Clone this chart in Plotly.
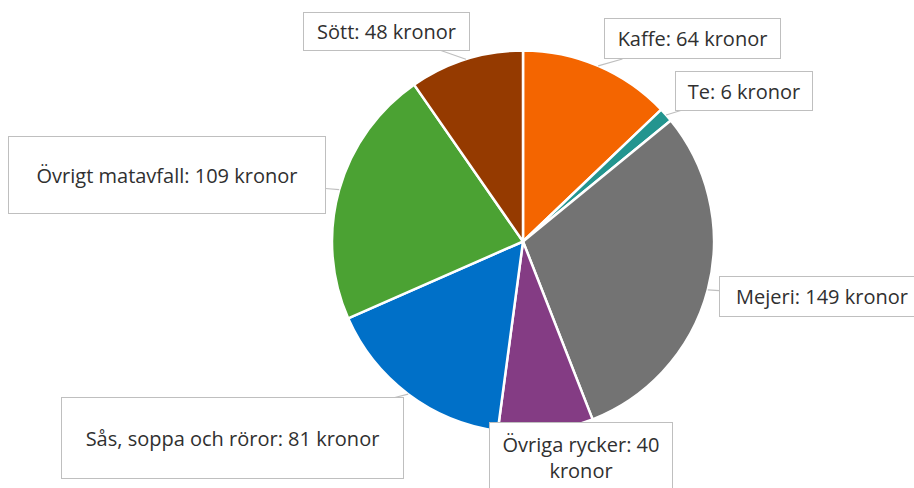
import math
import plotly.graph_objects as go

labels = ["Kaffe", "Te", "Mejeri", "Övriga rycker", "Sås, soppa och röror", "Övrigt matavfall", "Sött"]
values = [64, 6, 149, 40, 81, 109, 48]
colors = ["#F46500", "#23958F", "#737373", "#843C84", "#0070C8", "#4BA233", "#953A00"]
label_texts = ["Kaffe: 64 kronor", "Te: 6 kronor", "Mejeri: 149 kronor", "Övriga rycker: 40<br>kronor",
               "Sås, soppa och röror: 81 kronor", "Övrigt matavfall: 109 kronor", "Sött: 48 kronor"]

W, H = 914, 488
CX, CY, R = 523, 241.5, 191

# callout boxes: center x, center y, width, height (pixels)
boxes = [
    (692.5, 39, 175, 39),
    (744, 91, 136, 38),
    (822, 296.5, 204, 39),
    (581, 457, 182, 69),
    (232.5, 438, 341, 80),
    (167, 175, 316, 76),
    (386.5, 31.5, 165, 37),
]
show_leader = [True, True, True, False, True, True, True]

FONT = dict(family="Open Sans", size=20, color="#303030")

fig = go.Figure()
fig.add_trace(go.Pie(
    labels=labels, values=values, sort=False, direction="clockwise", rotation=0,
    marker=dict(colors=colors, line=dict(color="white", width=2.5)),
    textinfo="none", showlegend=False, hoverinfo="label+value",
    domain=dict(x=[(CX - R) / W, (CX + R) / W], y=[1 - (CY + R) / H, 1 - (CY - R) / H]),
))

total = sum(values)
cum = 0
annotations = []
for v, txt, (bx, by, bw, bh), lead in zip(values, label_texts, boxes, show_leader):
    mid = (cum + v / 2) / total * 2 * math.pi
    cum += v
    px = CX + R * math.sin(mid)
    py = CY - R * math.cos(mid)
    common = dict(text=txt, width=bw, height=bh, bordercolor="#BFBFBF", borderwidth=1, borderpad=0,
                  bgcolor="white", font=FONT, align="center", xref="paper", yref="paper",
                  xanchor="center", yanchor="middle")
    if lead:
        annotations.append(dict(
            x=px / W, y=1 - py / H,
            ax=bx - px, ay=by - py, axref="pixel", ayref="pixel",
            showarrow=True, arrowhead=0, arrowwidth=1.2, arrowcolor="#BFBFBF", **common,
        ))
    else:
        annotations.append(dict(x=bx / W, y=1 - by / H, showarrow=False, **common))

fig.update_layout(
    width=W, height=H, margin=dict(l=0, r=0, t=0, b=0),
    paper_bgcolor="white", plot_bgcolor="white",
    annotations=annotations,
)
fig.write_html("out.html", config={"displayModeBar": False},
               post_script="document.body.style.margin='0';")
